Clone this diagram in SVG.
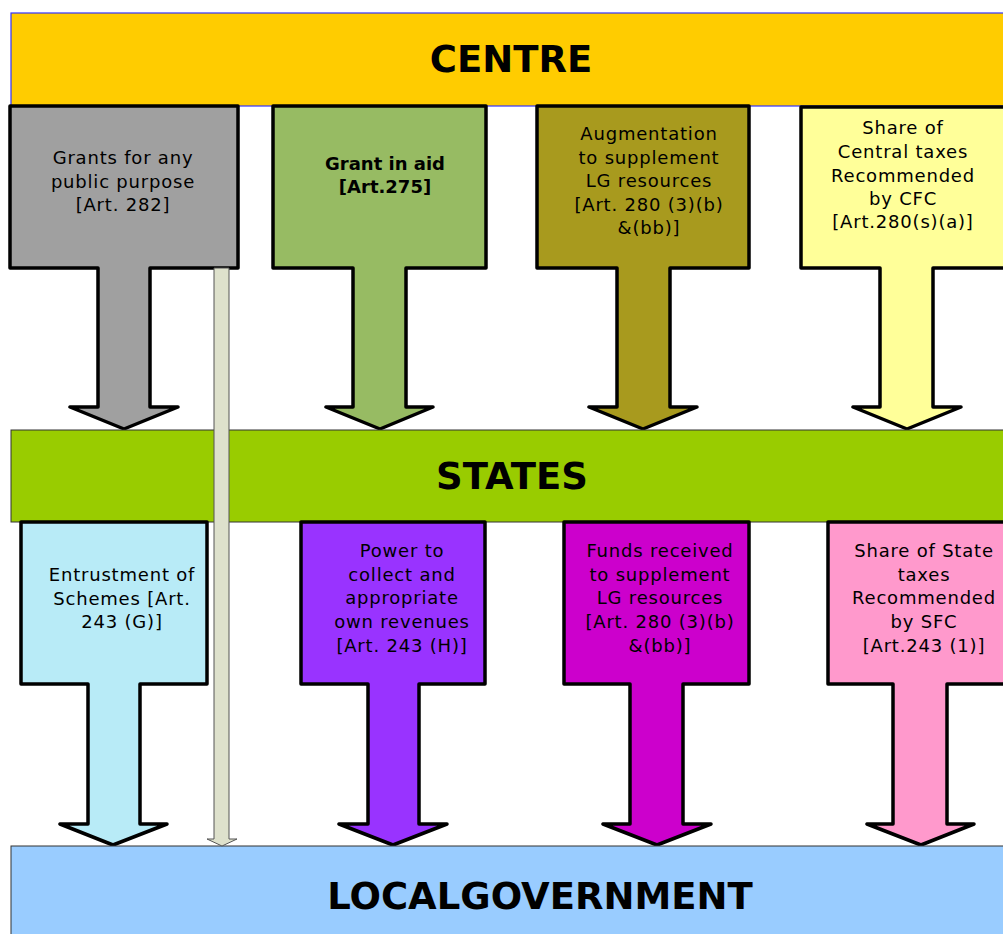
<svg xmlns="http://www.w3.org/2000/svg" width="1003" height="934" viewBox="0 0 1003 934">
<style>
.callout{stroke:#000;stroke-width:3.5;stroke-linejoin:round}
.bar{stroke:#333;stroke-width:1}
.lbl{font-family:"DejaVu Sans","Liberation Sans",sans-serif;font-size:18px;letter-spacing:0.8px;text-anchor:middle;fill:#000}
.b{font-weight:bold;letter-spacing:0}
.title{font-family:"DejaVu Sans","Liberation Sans",sans-serif;font-size:37px;font-weight:bold;text-anchor:middle;fill:#000}
</style>
<rect width="1003" height="934" fill="#fff"/>
<g id="centre">
<rect x="11" y="13" width="1000" height="93" fill="#FFCC00" stroke="#3333FF" stroke-width="1.2"/>
<text class="title" x="511" y="72">CENTRE</text>
</g>
<g id="grants-public">
<path class="callout" fill="#A0A0A0" d="M10,106 H238 V268 H150 V407 H178 L124,429 L70,407 H98 V268 H10 Z"/>
<text class="lbl" x="123" y="164">Grants for any</text>
<text class="lbl" x="123" y="188">public purpose</text>
<text class="lbl" x="123" y="211">[Art. 282]</text>
</g>
<g id="grant-in-aid">
<path class="callout" fill="#97BB63" d="M273,106 H486 V268 H406 V407 H433 L380,429 L326,407 H353 V268 H273 Z"/>
<text class="lbl b" x="385" y="170">Grant in aid</text>
<text class="lbl b" x="385" y="193">[Art.275]</text>
</g>
<g id="augmentation">
<path class="callout" fill="#A89A1E" d="M537,106 H749 V268 H670 V407 H697 L643,429 L589,407 H617 V268 H537 Z"/>
<text class="lbl" x="649" y="140">Augmentation</text>
<text class="lbl" x="649" y="164">to supplement</text>
<text class="lbl" x="649" y="187">LG resources</text>
<text class="lbl" x="649" y="211">[Art. 280 (3)(b)</text>
<text class="lbl" x="649" y="234">&amp;(bb)]</text>
</g>
<g id="central-taxes">
<path class="callout" fill="#FFFF99" d="M801,107 H1012 V268 H933 V407 H961 L907,429 L853,407 H880 V268 H801 Z"/>
<text class="lbl" x="903" y="134">Share of</text>
<text class="lbl" x="903" y="158">Central taxes</text>
<text class="lbl" x="903" y="182">Recommended</text>
<text class="lbl" x="903" y="205">by CFC</text>
<text class="lbl" x="903" y="228">[Art.280(s)(a)]</text>
</g>
<g id="states">
<rect class="bar" x="11" y="430" width="1000" height="92" fill="#99CC00"/>
<text class="title" x="512" y="489">STATES</text>
</g>
<g id="entrustment">
<path class="callout" fill="#B8EBF7" d="M21,522 H207 V684 H140 V824 H167 L113,845 L60,824 H88 V684 H21 Z"/>
<text class="lbl" x="122" y="581">Entrustment of</text>
<text class="lbl" x="122" y="605">Schemes [Art.</text>
<text class="lbl" x="122" y="628">243 (G)]</text>
</g>
<g id="own-revenues">
<path class="callout" fill="#9933FF" d="M301,522 H485 V684 H419 V824 H447 L393,845 L339,824 H368 V684 H301 Z"/>
<text class="lbl" x="402" y="557">Power to</text>
<text class="lbl" x="402" y="581">collect and</text>
<text class="lbl" x="402" y="604">appropriate</text>
<text class="lbl" x="402" y="628">own revenues</text>
<text class="lbl" x="402" y="652">[Art. 243 (H)]</text>
</g>
<g id="funds-received">
<path class="callout" fill="#CC00CC" d="M564,522 H749 V684 H683 V824 H711 L657,845 L603,824 H630 V684 H564 Z"/>
<text class="lbl" x="660" y="557">Funds received</text>
<text class="lbl" x="660" y="581">to supplement</text>
<text class="lbl" x="660" y="604">LG resources</text>
<text class="lbl" x="660" y="628">[Art. 280 (3)(b)</text>
<text class="lbl" x="660" y="652">&amp;(bb)]</text>
</g>
<g id="state-taxes">
<path class="callout" fill="#FF99CC" d="M828,522 H1012 V684 H947 V824 H974 L921,845 L867,824 H893 V684 H828 Z"/>
<text class="lbl" x="924" y="557">Share of State</text>
<text class="lbl" x="924" y="581">taxes</text>
<text class="lbl" x="924" y="604">Recommended</text>
<text class="lbl" x="924" y="628">by SFC</text>
<text class="lbl" x="924" y="652">[Art.243 (1)]</text>
</g>
<g id="local-government">
<rect class="bar" x="11" y="846" width="1000" height="100" fill="#99CCFF"/>
<text class="title" x="540" y="909">LOCALGOVERNMENT</text>
</g>
<g id="connectors">
<path d="M214,268 H229 V839 H237 L222,846 L207,839 H214 Z" fill="#DEE1CC" stroke="#555" stroke-width="1" stroke-linejoin="round"/>
</g>
</svg>
